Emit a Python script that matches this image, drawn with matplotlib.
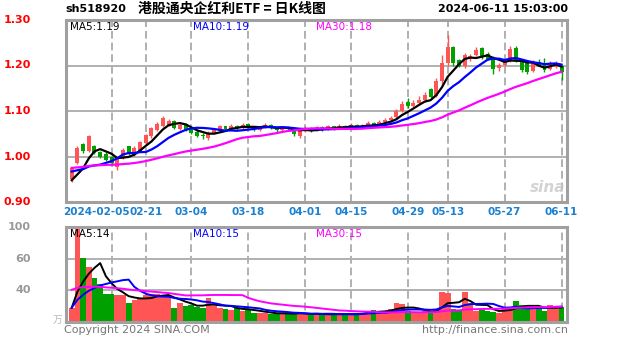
import matplotlib.pyplot as plt
import numpy as np

# daily K data, 2024-01-25 .. 2024-06-11 (87 trading days)
opens = [0.950, 0.985, 1.027, 1.012, 1.023, 1.010, 1.005, 0.998, 0.978, 0.998,
         1.022, 1.006, 1.012, 1.030, 1.045, 1.058, 1.066, 1.070, 1.078, 1.060,
         1.072, 1.060, 1.054, 1.048, 1.040, 1.052, 1.056, 1.066, 1.060, 1.068,
         1.062, 1.072, 1.066, 1.058, 1.064, 1.070, 1.062, 1.058, 1.064, 1.058,
         1.046, 1.056, 1.062, 1.058, 1.064, 1.060, 1.066, 1.062, 1.068, 1.064,
         1.070, 1.062, 1.068, 1.074, 1.068, 1.076, 1.080, 1.086, 1.100, 1.120,
         1.110, 1.118, 1.124, 1.148, 1.132, 1.165, 1.205, 1.240, 1.212, 1.198,
         1.214, 1.222, 1.238, 1.226, 1.215, 1.194, 1.202, 1.210, 1.238, 1.210,
         1.205, 1.188, 1.208, 1.204, 1.192, 1.196, 1.198]
highs = [0.978, 1.022, 1.030, 1.048, 1.026, 1.012, 1.010, 1.002, 1.000, 1.018,
         1.024, 1.022, 1.035, 1.050, 1.065, 1.075, 1.088, 1.082, 1.080, 1.073,
         1.074, 1.062, 1.058, 1.052, 1.056, 1.062, 1.070, 1.068, 1.072, 1.070,
         1.074, 1.074, 1.068, 1.068, 1.074, 1.072, 1.064, 1.068, 1.066, 1.060,
         1.060, 1.066, 1.064, 1.068, 1.066, 1.070, 1.068, 1.072, 1.070, 1.074,
         1.072, 1.072, 1.078, 1.076, 1.080, 1.084, 1.090, 1.104, 1.122, 1.128,
         1.124, 1.134, 1.142, 1.150, 1.172, 1.222, 1.267, 1.242, 1.214, 1.228,
         1.226, 1.240, 1.240, 1.230, 1.220, 1.206, 1.214, 1.242, 1.242, 1.214,
         1.208, 1.212, 1.215, 1.216, 1.210, 1.210, 1.200]
lows = [0.944, 0.983, 1.008, 1.010, 1.005, 0.996, 0.990, 0.982, 0.970, 0.995,
        1.004, 1.002, 1.010, 1.026, 1.040, 1.055, 1.064, 1.066, 1.060, 1.058,
        1.055, 1.050, 1.042, 1.038, 1.036, 1.050, 1.054, 1.056, 1.058, 1.058,
        1.060, 1.062, 1.056, 1.056, 1.062, 1.060, 1.054, 1.056, 1.056, 1.044,
        1.040, 1.054, 1.054, 1.056, 1.056, 1.058, 1.058, 1.060, 1.060, 1.062,
        1.060, 1.060, 1.066, 1.064, 1.066, 1.072, 1.076, 1.084, 1.098, 1.106,
        1.108, 1.114, 1.120, 1.128, 1.130, 1.160, 1.200, 1.200, 1.196, 1.195,
        1.210, 1.220, 1.215, 1.212, 1.182, 1.188, 1.198, 1.208, 1.208, 1.185,
        1.182, 1.186, 1.198, 1.185, 1.190, 1.194, 1.168]
closes = [0.975, 1.018, 1.012, 1.044, 1.008, 0.999, 0.993, 0.986, 0.996, 1.014,
          1.006, 1.018, 1.032, 1.047, 1.062, 1.072, 1.084, 1.078, 1.063, 1.070,
          1.058, 1.052, 1.045, 1.044, 1.052, 1.058, 1.066, 1.060, 1.068, 1.062,
          1.070, 1.066, 1.060, 1.064, 1.070, 1.062, 1.058, 1.064, 1.060, 1.050,
          1.056, 1.062, 1.058, 1.064, 1.060, 1.066, 1.062, 1.068, 1.064, 1.070,
          1.062, 1.068, 1.074, 1.068, 1.076, 1.080, 1.085, 1.100, 1.115, 1.110,
          1.118, 1.125, 1.136, 1.130, 1.165, 1.205, 1.240, 1.205, 1.200, 1.222,
          1.220, 1.235, 1.220, 1.215, 1.192, 1.202, 1.210, 1.236, 1.212, 1.190,
          1.186, 1.208, 1.202, 1.190, 1.205, 1.206, 1.185]
volumes = [15, 99, 67, 58, 46, 40, 30, 30, 28, 28,
           20, 23, 25, 28, 30, 29, 27, 28, 15, 20,
           17, 18, 16, 15, 25, 17, 15, 14, 13, 15,
           12, 13, 10, 9, 10, 8, 9, 10, 8, 9,
           10, 8, 7, 9, 8, 9, 8, 7, 9, 8,
           9, 10, 12, 13, 10, 11, 14, 20, 19, 12,
           11, 9, 12, 10, 14, 32, 31, 14, 13, 32,
           20, 12, 13, 12, 11, 10, 14, 16, 22, 18,
           15, 14, 16, 12, 18, 14, 16]

# the 29 sessions before the window, only needed for the moving averages
pre_closes = [0.985, 0.982, 0.980, 0.978, 0.976, 0.975, 0.978, 0.981, 0.983, 0.980,
              0.977, 0.975, 0.973, 0.976, 0.979, 0.982, 0.984, 0.981, 0.978, 0.977,
              0.990, 0.988, 0.986, 0.984, 0.982, 0.955, 0.945, 0.935, 0.930]
pre_volumes = [40, 45, 48, 42, 44, 46, 41, 43, 45, 44, 42, 40, 46, 44, 43, 45, 41, 42, 44, 43,
               16, 14, 15, 17, 13, 15, 14, 16, 15]

tick_pos = [7, 13, 21, 31, 41, 49, 59, 66, 76, 86]
tick_labels = ["2024-02-05", "02-21", "03-04", "03-18", "04-01", "04-15",
               "04-29", "05-13", "05-27", "06-11"]
price_ticks = [0.90, 1.00, 1.10, 1.20, 1.30]
price_labels = ["0.90", "1.00", "1.10", "1.20", "1.30"]
vol_ticks = [100, 66.7, 33.3]
vol_labels = ["100", "60", "40"]

RED = "#ff5555"
GREEN = "#00a000"
GRID = "#b0b0b0"
CJK = ["Noto Sans CJK SC", "DejaVu Sans"]


def ma(pre, vals, n):
    s = np.array(pre + vals, dtype=float)
    out = np.convolve(s, np.ones(n) / n, mode="valid")
    return out[-len(vals):]


W, H = 627, 342
fig = plt.figure(figsize=(W / 100, H / 100), dpi=100)
ax = fig.add_axes([66 / W, 1 - 202 / H, 501 / W, 182 / H])
axv = fig.add_axes([66 / W, 1 - 322 / H, 501 / W, 95 / H])

x = np.arange(len(closes))
o = np.array(opens)
c = np.array(closes)
up = c >= o
cols = np.where(up, RED, GREEN)

# grids first
for a in (ax, axv):
    for t in tick_pos:
        a.axvline(t, color=GRID, lw=1.4, ls=(0, (4, 2)), zorder=0)
for p in price_ticks[1:-1]:
    ax.axhline(p, color=GRID, lw=1.4, zorder=0)
for v in vol_ticks[1:]:
    axv.axhline(v, color=GRID, lw=1.4, zorder=0)

# candles
ax.vlines(x, lows, highs, colors=cols, lw=1, zorder=2)
body = np.maximum(np.abs(c - o), 0.002)
ax.bar(x, body, bottom=np.minimum(o, c), width=0.7, color=cols, zorder=3)

for n, col in [(5, "black"), (10, "#0000ff"), (30, "#ff00ff")]:
    ax.plot(x, ma(pre_closes, closes, n), color=col, lw=1.6, zorder=4)
    axv.plot(x, ma(pre_volumes, volumes, n), color=col, lw=1.4, zorder=4)

axv.bar(x, volumes, width=1.0, color=cols, zorder=2)

ax.set_xlim(-1.0, 86.95)
axv.set_xlim(-1.0, 86.95)
ax.set_ylim(0.90, 1.30)
axv.set_ylim(0, 100)

for a in (ax, axv):
    a.set_xticks([])
    a.set_yticks([])
    for s in a.spines.values():
        s.set_color("#a0a0a0")
        s.set_linewidth(2.2)

# axis labels
for p, lab in zip(price_ticks, price_labels):
    ax.text(-0.07, (p - 0.90) / 0.40, lab, transform=ax.transAxes, ha="right",
            va="center", color="red", fontsize=8, fontweight="bold")
for v, lab in zip(vol_ticks, vol_labels):
    axv.text(-0.07, v / 100, lab, transform=axv.transAxes, ha="right",
             va="center", color="#999999", fontsize=8, fontweight="bold")
fig.text(62 / W, 1 - 320 / H, "万", family=CJK, color="#bbbbbb", fontsize=7,
         ha="right", va="center")

for t, lab in zip(tick_pos, tick_labels):
    xf = (66 + (t + 1.0) / 87.95 * 501) / W
    if t == tick_pos[0]:
        # the first date is long; keep it clear of the next one
        fig.text(130 / W, 1 - 212 / H, lab, ha="right", va="center",
                 color="#1a80d0", fontsize=7.5, fontweight="bold")
        continue
    fig.text(xf, 1 - 212 / H, lab, ha="center", va="center", color="#1a80d0",
             fontsize=7.5, fontweight="bold")

# titles
fig.text(65 / W, 1 - 9 / H, "sh518920", fontsize=8, va="center", fontweight="bold")
fig.text(232 / W, 1 - 9 / H, "港股通央企红利ETF = 日K线图", family=CJK,
         fontsize=10, fontweight="bold", ha="center", va="center")
fig.text(568 / W, 1 - 9 / H, "2024-06-11 15:03:00", fontsize=8, fontweight="bold",
         ha="right", va="center")

for xp, txt, col in [(70, "MA5:1.19", "black"), (193, "MA10:1.19", "#0000ff"),
                     (316, "MA30:1.18", "#ff00ff")]:
    fig.text(xp / W, 1 - 27 / H, txt, color=col, fontsize=7.5, va="center")
for xp, txt, col in [(70, "MA5:14", "black"), (193, "MA10:15", "#0000ff"),
                     (316, "MA30:15", "#ff00ff")]:
    fig.text(xp / W, 1 - 234 / H, txt, color=col, fontsize=7.5, va="center")

fig.text(548 / W, 1 - 187 / H, "sina", color="#c8c8c8", fontsize=11,
         fontstyle="italic", fontweight="bold", ha="center", va="center", alpha=0.8)

fig.text(64 / W, 1 - 330 / H, "Copyright 2024 SINA.COM", color="#777777",
         fontsize=8, va="center")
fig.text(568 / W, 1 - 330 / H, "http://finance.sina.com.cn", color="#777777",
         fontsize=8, va="center", ha="right")

fig.savefig("out.png", dpi=100)
